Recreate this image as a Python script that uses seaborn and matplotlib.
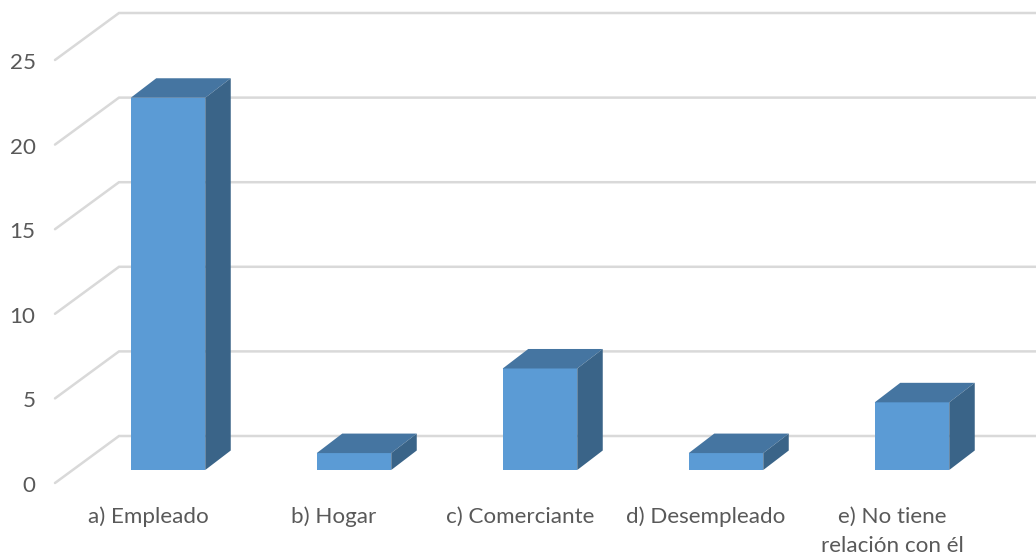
import matplotlib
matplotlib.use("Agg")
import matplotlib.pyplot as plt
from matplotlib.patches import Polygon
import numpy as np
import pandas as pd
import seaborn as sns

categories = ["a) Empleado", "b) Hogar", "c) Comerciante", "d) Desempleado", "e) No tiene\nrelación con él"]
values = [22, 1, 6, 1, 4]
y_ticks = [0, 5, 10, 15, 20, 25]

FRONT = "#5B9BD5"
TOP = "#4575A1"
SIDE = "#3A6488"
GRID = "#D9D9D9"
TEXT = "#595959"

W, H = 1036, 558
PX_UNIT = 16.92   # pixels per value unit
PX_CAT = 186.0    # pixels per category
AX_L, AX_R, AX_T, AX_B = 55, 1036, 13, 490
FLOOR = 483.0     # pixel of the front edge of the floor
X0 = 168.0        # pixel of the first category
Y0 = 470.0        # pixel of bar base

sns.set_theme(style="white")
plt.rcParams["font.family"] = ["Lato", "DejaVu Sans"]

fig = plt.figure(figsize=(W / 100, H / 100), dpi=100, facecolor="white")
ax = fig.add_axes([AX_L / W, 1 - AX_B / H, (AX_R - AX_L) / W, (AX_B - AX_T) / H])

df = pd.DataFrame({"cat": categories, "val": values})
bar_w = 74.5 / PX_CAT
sns.barplot(data=df, x="cat", y="val", color=FRONT, saturation=1, width=bar_w, ax=ax, zorder=3, linewidth=0)

xlim = ((AX_L - X0) / PX_CAT, (AX_R - X0) / PX_CAT)
ylim = ((Y0 - AX_B) / PX_UNIT, (Y0 - AX_T) / PX_UNIT)

# depth of the pseudo-3D extrusion, data units
bar_dx, bar_dy = 25.5 / PX_CAT, 19.5 / PX_UNIT
front_off = (FLOOR - Y0) / PX_UNIT          # front floor is below bar base
wall_dx = 64 / PX_CAT
wall_dy = 47 / PX_UNIT
xl, xr = xlim

for t in y_ticks:
    yf = t - front_off
    yb = yf + wall_dy
    ax.plot([xl, xl + wall_dx, xr], [yf, yb, yb], color=GRID, lw=1.8, zorder=1,
            solid_joinstyle="miter", clip_on=False)

for i, v in enumerate(values):
    l, r = i - bar_w / 2, i + bar_w / 2
    ax.add_patch(Polygon([(l, v), (r, v), (r + bar_dx, v + bar_dy), (l + bar_dx, v + bar_dy)],
                         closed=True, fc=TOP, ec="none", zorder=3))
    ax.add_patch(Polygon([(r, 0), (r + bar_dx, bar_dy), (r + bar_dx, v + bar_dy), (r, v)],
                         closed=True, fc=SIDE, ec="none", zorder=3))

ax.set_xlabel("")
ax.set_ylabel("")
label_shift = 20 / PX_CAT      # category labels sit left of the bar faces
ax.set_xticks([i - label_shift for i in range(len(categories))], categories)
ax.set_yticks([t - front_off - 1 / PX_UNIT for t in y_ticks], [str(t) for t in y_ticks])
ax.set_xlim(*xlim)
ax.set_ylim(*ylim)
ax.tick_params(axis="both", length=0, labelsize=16.1, labelcolor=TEXT)
ax.tick_params(axis="x", pad=12)
ax.tick_params(axis="y", pad=14)
for lab in ax.get_xticklabels():
    lab.set_linespacing(1.58)
    lab.set_ha("center")
sns.despine(ax=ax, left=True, bottom=True, top=True, right=True)
ax.grid(False)
ax.patch.set_alpha(0)

fig.savefig("out.png", dpi=100, facecolor="white")
